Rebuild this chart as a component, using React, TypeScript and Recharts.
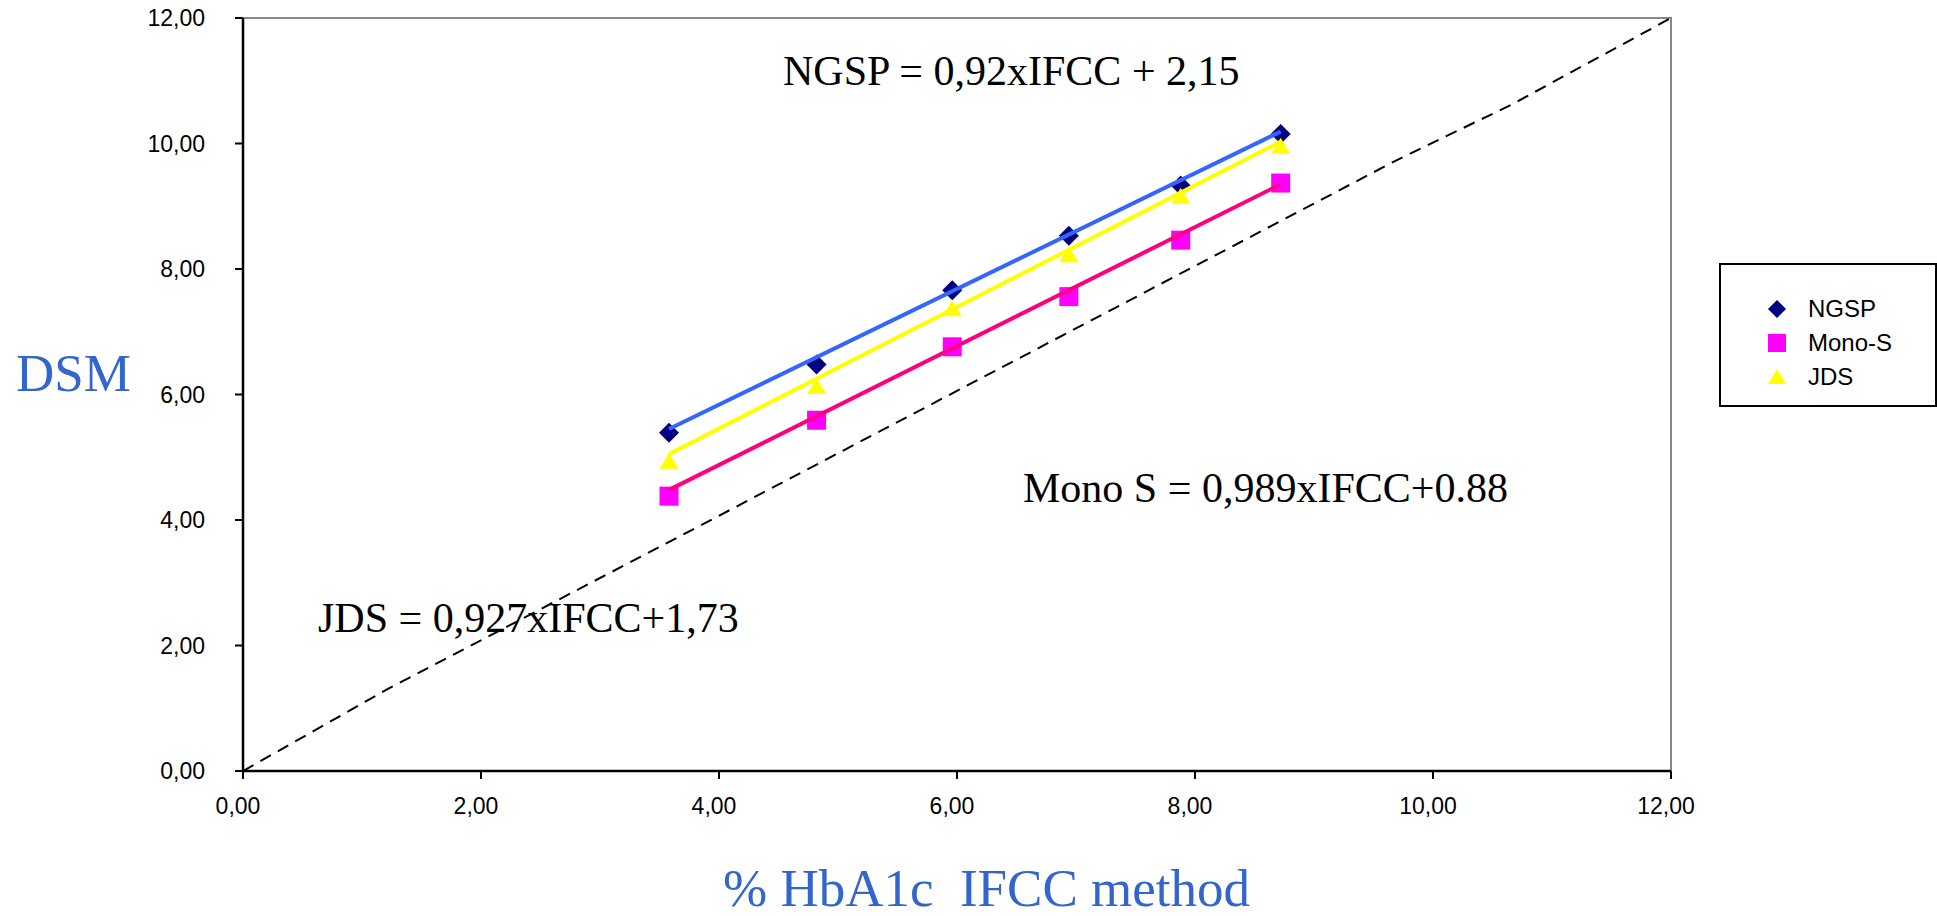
import React from 'react'
import { ComposedChart, Scatter, XAxis, YAxis, ReferenceArea } from 'recharts'

// measured values (IFCC on x, DSM on y)
const IFCC = [3.58, 4.82, 5.96, 6.94, 7.88, 8.72]
const NGSP = [5.39, 6.48, 7.66, 8.53, 9.33, 10.15]
const MONO_S = [4.38, 5.59, 6.76, 7.56, 8.46, 9.37]
const JDS = [4.93, 6.12, 7.36, 8.22, 9.15, 9.95]

// trend line end points
const TREND_X = [3.58, 8.72]
const NGSP_TREND = [5.45, 10.19]
const JDS_TREND = [5.05, 10.03]
const MONO_TREND = [4.48, 9.35]

// dashed identity line
const DIAG_X = [0, 1.21, 3.61, 9.68, 10.66, 12]
const DIAG_Y = [0, 1.3, 3.68, 9.72, 10.62, 12]

const TICKS = [0, 2, 4, 6, 8, 10, 12]

const SANS = '"Liberation Sans", Arial, sans-serif'
const SERIF = '"Liberation Serif", "Times New Roman", serif'
const TITLE_BLUE = '#3366CC'

const zip = (xs: number[], ys: number[]) => xs.map((x, i) => ({ x, y: ys[i] }))

const fmt = (v: number) => v.toFixed(2).replace('.', ',')

const Diamond = ({ cx, cy }: any) => (
  <polygon points={`${cx},${cy - 10} ${cx + 10},${cy} ${cx},${cy + 10} ${cx - 10},${cy}`} fill="#000080" />
)
const Square = ({ cx, cy }: any) => <rect x={cx - 9.5} y={cy - 9.5} width={19} height={19} fill="#FF00FF" />
const Triangle = ({ cx, cy }: any) => (
  <polygon points={`${cx},${cy - 9} ${cx + 9.5},${cy + 7} ${cx - 9.5},${cy + 7}`} fill="#FFFF00" />
)
const NoShape = () => null

function LegendBox() {
  const items = [
    { name: 'NGSP', marker: <polygon points="10,1 19,10 10,19 1,10" fill="#000080" /> },
    { name: 'Mono-S', marker: <rect x={1} y={1} width={18} height={18} fill="#FF00FF" /> },
    { name: 'JDS', marker: <polygon points="10,2 19,17 1,17" fill="#FFFF00" /> },
  ]
  return (
    <div
      style={{
        position: 'absolute',
        left: 1719,
        top: 263,
        width: 214,
        height: 140,
        border: '2px solid #000',
        background: '#fff',
        fontFamily: SANS,
        fontSize: 24,
      }}
    >
      {items.map((it, i) => (
        <div key={it.name} style={{ position: 'absolute', left: 46, top: 30 + i * 34, height: 28, display: 'flex', alignItems: 'center' }}>
          <svg width={20} height={20}>{it.marker}</svg>
          <span style={{ marginLeft: 21 }}>{it.name}</span>
        </div>
      ))}
    </div>
  )
}

export default function App() {
  return (
    <div style={{ position: 'absolute', left: 0, top: 0, width: 1937, height: 916, background: '#fff' }}>
      <ComposedChart width={1937} height={916} margin={{ top: 18, right: 266, left: 143, bottom: 105 }}>
        <XAxis
          type="number"
          dataKey="x"
          domain={[0, 12]}
          ticks={TICKS}
          tickFormatter={fmt}
          height={40}
          axisLine={{ stroke: '#000', strokeWidth: 2.5 }}
          tickLine={{ stroke: '#000', strokeWidth: 2 }}
          tickSize={8}
          tickMargin={19}
          tick={{ fill: '#000', fontSize: 23, fontFamily: SANS, dx: -5 }}
        />
        <YAxis
          type="number"
          dataKey="y"
          domain={[0, 12]}
          ticks={TICKS}
          tickFormatter={fmt}
          width={100}
          axisLine={{ stroke: '#000', strokeWidth: 2.5 }}
          tickLine={{ stroke: '#000', strokeWidth: 2 }}
          tickSize={8}
          tickMargin={30}
          tick={{ fill: '#000', fontSize: 23, fontFamily: SANS }}
        />
        <ReferenceArea x1={0} x2={12} y1={0} y2={12} fill="none" stroke="#888" strokeWidth={2} ifOverflow="visible" />
        <Scatter
          data={zip(DIAG_X, DIAG_Y)}
          shape={NoShape}
          line={{ stroke: '#000', strokeWidth: 2, strokeDasharray: '12 8' }}
          isAnimationActive={false}
        />
        <Scatter name="NGSP" data={zip(IFCC, NGSP)} shape={Diamond} isAnimationActive={false} />
        <Scatter name="Mono-S" data={zip(IFCC, MONO_S)} shape={Square} isAnimationActive={false} />
        <Scatter name="JDS" data={zip(IFCC, JDS)} shape={Triangle} isAnimationActive={false} />
        <Scatter data={zip(TREND_X, NGSP_TREND)} shape={NoShape} line={{ stroke: '#3366FF', strokeWidth: 4 }} isAnimationActive={false} />
        <Scatter data={zip(TREND_X, JDS_TREND)} shape={NoShape} line={{ stroke: '#FFFF00', strokeWidth: 4 }} isAnimationActive={false} />
        <Scatter data={zip(TREND_X, MONO_TREND)} shape={NoShape} line={{ stroke: '#FF0080', strokeWidth: 4 }} isAnimationActive={false} />
      </ComposedChart>

      <svg width={1937} height={916} style={{ position: 'absolute', left: 0, top: 0, pointerEvents: 'none' }}>
        <g fontFamily={SERIF} fill="#000" fontSize={42}>
          <text x={783} y={85}>NGSP = 0,92xIFCC + 2,15</text>
          <text x={1023} y={502}>Mono S = 0,989xIFCC+0.88</text>
          <text x={318} y={632}>JDS = 0,927xIFCC+1,73</text>
        </g>
        <text x={16} y={391} fontFamily={SERIF} fontSize={53} fill={TITLE_BLUE}>DSM</text>
        <text x={723} y={906} fontFamily={SERIF} fontSize={53} fill={TITLE_BLUE} style={{ whiteSpace: 'pre' }}>
          {'% HbA1c  IFCC method'}
        </text>
      </svg>

      <LegendBox />
    </div>
  )
}
